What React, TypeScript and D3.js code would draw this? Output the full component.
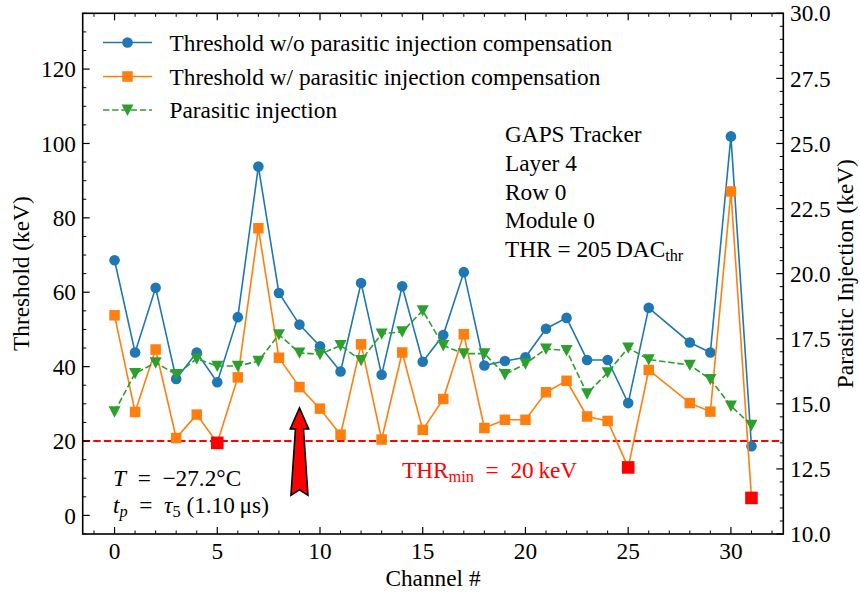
import React from "react";
import * as d3 from "d3";

const CHANNELS = [0,1,2,3,4,5,6,7,8,9,10,11,12,13,14,15,16,17,18,19,20,21,22,23,24,25,26,28,29,30,31];
const THR_WO = [68.6,43.8,61.2,36.7,43.8,35.8,53.3,93.8,59.8,51.3,45.5,38.7,62.5,37.8,61.6,41.3,48.5,65.4,40.3,41.5,42.5,50.2,53.1,41.8,41.8,30.2,55.8,46.5,43.8,101.9,18.6];
const THR_W = [53.8,27.8,44.6,20.8,27.1,19.5,37.1,77.2,42.4,34.5,28.7,21.7,46.0,20.4,43.8,23.0,31.3,48.7,23.5,25.7,25.7,33.1,36.2,26.6,25.4,12.9,39.1,30.2,27.9,87.1,4.7];
const PARASITIC = [14.70,16.17,16.58,16.13,16.73,16.45,16.45,16.64,17.66,16.96,16.90,17.24,16.67,17.69,17.77,18.58,17.24,16.93,16.93,16.13,16.54,17.11,17.05,15.39,16.20,17.15,16.70,16.49,15.94,14.92,14.18];
const THR_MIN = 20;
const X_TICKS = [0,5,10,15,20,25,30];
const Y_TICKS = [0,20,40,60,80,100,120];
const Y2_TICKS = [10,12.5,15,17.5,20,22.5,25,27.5,30];
const LEGEND = ["Threshold w/o parasitic injection compensation","Threshold w/ parasitic injection compensation","Parasitic injection"];
const INFO = ["GAPS Tracker","Layer 4","Row 0","Module 0"];
const ARROW = { ch: 9, tip: 28.9, tail: 5.4 };

const W = 860, H = 594;
const L = 82.7, R = 783.3, T = 13.3, B = 534;
const FONT = "'Liberation Serif', 'DejaVu Serif', serif";
const FS = 23.3;
const SUB = 16.3;
const BLUE = "#1f77b4", ORANGE = "#ff7f0e", GREEN = "#2ca02c", RED = "#ff0000";
const ESP = "\u2002";

export default function App() {
  const x = d3.scaleLinear().domain([-1.55, 32.55]).range([L, R]);
  const y = d3.scaleLinear().domain([-5, 135]).range([B, T]);
  const y2 = d3.scaleLinear().domain([10, 30]).range([B, T]);

  const idx = CHANNELS.map((_, i) => i);
  const lineWo = d3.line<number>().x(i => x(CHANNELS[i])).y(i => y(THR_WO[i]));
  const lineW = d3.line<number>().x(i => x(CHANNELS[i])).y(i => y(THR_W[i]));
  const lineP = d3.line<number>().x(i => x(CHANNELS[i])).y(i => y2(PARASITIC[i]));

  const MAJ = 7, MIN = 3.5;
  const xMinor = d3.range(-1, 33, 1).filter(v => v % 5 !== 0);
  const yMinor = d3.range(-5, 136, 5).filter(v => v % 20 !== 0);
  const y2Minor = d3.range(10, 30.01, 0.5).filter(v => Math.abs((v / 2.5) - Math.round(v / 2.5)) > 1e-6);

  const sq = 10.5;
  const LW = 1.6;
  const DASH = "6.4,2.8";
  const tri = (cx: number, cy: number, s = 6) =>
    `M${cx - s},${cy - s * 0.9}L${cx + s},${cy - s * 0.9}L${cx},${cy + s}Z`;

  // arrow
  const ax = x(ARROW.ch), aTip = y(ARROW.tip), aTail = y(ARROW.tail);
  const hl = 21, hw = 9.2, swTop = 4, swBot = 8.5, notch = 5.5;
  const arrowPts = [
    [ax, aTip], [ax + hw, aTip + hl], [ax + swTop, aTip + hl], [ax + swBot, aTail],
    [ax, aTail - notch], [ax - swBot, aTail], [ax - swTop, aTip + hl], [ax - hw, aTip + hl],
  ].map(p => p.join(",")).join(" ");

  const legendY = [42.5, 76.5, 110];
  const lx0 = 103, lx1 = 152, lxm = 127.5, ltx = 169.5;

  return (
    <svg width={W} height={H} style={{ position: "absolute", left: 0, top: 0, background: "#fff" }} fontFamily={FONT}>
      <rect width={W} height={H} fill="#fff" />
      {/* threshold line */}
      <line x1={L} x2={R} y1={y(THR_MIN)} y2={y(THR_MIN)} stroke={RED} strokeWidth={2} strokeDasharray="7.4,3.2" />
      {/* series */}
      <path d={lineWo(idx) || ""} fill="none" stroke={BLUE} strokeWidth={LW} />
      {idx.map(i => <circle key={"b" + i} cx={x(CHANNELS[i])} cy={y(THR_WO[i])} r={5.3} fill={BLUE} />)}
      <path d={lineW(idx) || ""} fill="none" stroke={ORANGE} strokeWidth={LW} />
      {idx.map(i => <rect key={"o" + i} x={x(CHANNELS[i]) - sq / 2} y={y(THR_W[i]) - sq / 2} width={sq} height={sq} fill={ORANGE} />)}
      <path d={lineP(idx) || ""} fill="none" stroke={GREEN} strokeWidth={LW} strokeDasharray={DASH} />
      {idx.map(i => <path key={"g" + i} d={tri(x(CHANNELS[i]), y2(PARASITIC[i]))} fill={GREEN} />)}
      {idx.filter(i => THR_W[i] < THR_MIN).map(i => (
        <rect key={"r" + i} x={x(CHANNELS[i]) - 6.3} y={y(THR_W[i]) - 6.3} width={12.6} height={12.6} fill={RED} />
      ))}
      {/* arrow */}
      <polygon points={arrowPts} fill={RED} stroke="#000" strokeWidth={1.6} strokeLinejoin="miter" />
      {/* frame */}
      <rect x={L} y={T} width={R - L} height={B - T} fill="none" stroke="#000" strokeWidth={1.6} />
      {/* x ticks bottom & top */}
      {X_TICKS.map(v => (
        <g key={"xt" + v}>
          <line x1={x(v)} x2={x(v)} y1={B} y2={B - MAJ} stroke="#000" strokeWidth={1.2} />
          <line x1={x(v)} x2={x(v)} y1={T} y2={T + MAJ} stroke="#000" strokeWidth={1.2} />
          <text x={x(v)} y={551} dy="0.35em" textAnchor="middle" fontSize={FS}>{v}</text>
        </g>
      ))}
      {xMinor.map(v => (
        <g key={"xm" + v}>
          <line x1={x(v)} x2={x(v)} y1={B} y2={B - MIN} stroke="#000" strokeWidth={1} />
          <line x1={x(v)} x2={x(v)} y1={T} y2={T + MIN} stroke="#000" strokeWidth={1} />
        </g>
      ))}
      {/* left y */}
      {Y_TICKS.map(v => (
        <g key={"yt" + v}>
          <line x1={L} x2={L + MAJ} y1={y(v)} y2={y(v)} stroke="#000" strokeWidth={1.2} />
          <text x={76} y={y(v)} dy="0.35em" textAnchor="end" fontSize={FS}>{v}</text>
        </g>
      ))}
      {yMinor.map(v => <line key={"ym" + v} x1={L} x2={L + MIN} y1={y(v)} y2={y(v)} stroke="#000" strokeWidth={1} />)}
      {/* right y */}
      {Y2_TICKS.map(v => (
        <g key={"y2t" + v}>
          <line x1={R} x2={R - MAJ} y1={y2(v)} y2={y2(v)} stroke="#000" strokeWidth={1.2} />
          <text x={790} y={y2(v)} dy="0.35em" textAnchor="start" fontSize={FS}>{v.toFixed(1)}</text>
        </g>
      ))}
      {y2Minor.map(v => <line key={"y2m" + v} x1={R} x2={R - MIN} y1={y2(v)} y2={y2(v)} stroke="#000" strokeWidth={1} />)}
      {/* axis labels */}
      <text x={(L + R) / 2} y={578} dy="0.35em" textAnchor="middle" fontSize={FS}>Channel #</text>
      <text transform={`translate(21,${(T + B) / 2}) rotate(-90)`} textAnchor="middle" dy="0.35em" fontSize={FS}>Threshold (keV)</text>
      <text transform={`translate(845,${(T + B) / 2}) rotate(-90)`} textAnchor="middle" dy="0.35em" fontSize={FS}>Parasitic Injection (keV)</text>
      {/* legend */}
      <line x1={lx0} x2={lx1} y1={legendY[0]} y2={legendY[0]} stroke={BLUE} strokeWidth={LW} />
      <circle cx={lxm} cy={legendY[0]} r={5.3} fill={BLUE} />
      <line x1={lx0} x2={lx1} y1={legendY[1]} y2={legendY[1]} stroke={ORANGE} strokeWidth={LW} />
      <rect x={lxm - sq / 2} y={legendY[1] - sq / 2} width={sq} height={sq} fill={ORANGE} />
      <line x1={lx0} x2={lx1} y1={legendY[2]} y2={legendY[2]} stroke={GREEN} strokeWidth={LW} strokeDasharray={DASH} />
      <path d={tri(lxm, legendY[2])} fill={GREEN} />
      {LEGEND.map((t, i) => (
        <text key={"lg" + i} x={ltx} y={legendY[i]} dy="0.35em" fontSize={FS}>{t}</text>
      ))}
      {/* info block */}
      {INFO.map((t, i) => (
        <text key={"in" + i} x={505} y={134 + i * 28.7} dy="0.35em" fontSize={FS}>{t}</text>
      ))}
      <text x={505} y={134 + 4 * 28.7} dy="0.35em" fontSize={FS}>
        THR = 205{"\u2009"}DAC<tspan fontSize={SUB} dy="4">thr</tspan>
      </text>
      {/* THR min label */}
      <text x={402} y={470} dy="0.35em" fontSize={FS} fill={RED}>
        THR<tspan fontSize={SUB} dy="4">min</tspan><tspan dy="-4">{ESP}={ESP}20{"\u2009"}keV</tspan>
      </text>
      {/* conditions */}
      <text x={113} y={478} dy="0.35em" fontSize={FS}>
        <tspan fontStyle="italic">T</tspan>{ESP}={ESP}−27.2°C
      </text>
      <text x={113} y={505} dy="0.35em" fontSize={FS}>
        <tspan fontStyle="italic">t</tspan><tspan fontStyle="italic" fontSize={SUB} dy="4">p</tspan>
        <tspan dy="-4">{ESP}={ESP}</tspan><tspan fontStyle="italic">τ</tspan><tspan fontSize={SUB} dy="4">5</tspan>
        <tspan dy="-4"> (1.10{"\u2009"}μs)</tspan>
      </text>
    </svg>
  );
}
